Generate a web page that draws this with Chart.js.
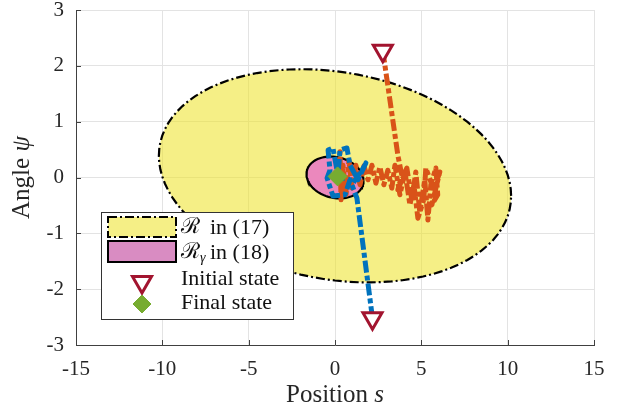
<!DOCTYPE html>
<html>
<head>
<meta charset="utf-8">
<script src="https://cdn.jsdelivr.net/npm/chart.js@4.4.1/dist/chart.umd.min.js"></script>
<style>
  html, body { margin: 0; padding: 0; background: #fff; }
  #wrap { width: 620px; height: 410px; }
</style>
</head>
<body>
<div id="wrap"><canvas id="chart" width="620" height="410"></canvas></div>
<script>
// ticks
const xTicks = [-15, -10, -5, 0, 5, 10, 15];
const yTicks = [-3, -2, -1, 0, 1, 2, 3];

// ellipses: [cx, cy, a, b, c]
// outline: s = cx + a cos t, psi = cy + c cos t + b sin t
const regionR = [0, 0.03, 10.2, 1.875, -0.36];
const regionRgamma = [0.0, 0.0, 1.65, 0.37, -0.06];

// trajectory 1 (orange)
const orangeS = [2.77, 3.64, 3.87, 3.64, 4.16, 4.45, 4.68, 4.91, 5.20, 5.38, 5.55, 5.84, 5.95, 5.61,
  6.07, 5.72, 5.26, 5.14, 4.80, 4.57, 4.34, 4.05, 3.76, 3.47, 3.29, 3.06, 2.83, 2.60, 2.37, 2.14,
  1.91, 1.68, 1.45, 1.21, 0.98, 0.81, 0.64, 0.46, 0.35, 0.29, 0.17];
const orangePsi = [2.27, 0.40, 0.04, -0.22, 0.17, -0.40, 0.10, -0.62, -0.04, -0.76, -0.13, 0.17, -0.31, -0.49,
  0.10, -0.22, 0.17, -0.40, -0.73, -0.13, -0.49, 0.10, -0.31, 0.22, -0.19, 0.13, -0.13, 0.19, -0.10, 0.22,
  -0.04, 0.21, -0.13, 0.22, -0.19, 0.31, -0.31, 0.22, -0.40, 0.46, 0.01];

// trajectory 2 (blue)
const blueS = [2.17, 1.27, 0.98, 1.56, 1.79, 1.33, 0.87, 0.69, 0.29, 0.17, -0.12, -0.40, -0.29, -0.46,
  -0.12, 0.58, 0.87, 0.17];
const bluePsi = [-2.52, -0.37, -0.13, 0.13, 0.26, -0.04, 0.22, 0.53, 0.49, 0.04, 0.53, 0.49, 0.13, -0.01,
  -0.33, -0.31, -0.04, 0.01];

const initialS = [2.77, 2.17];
const initialPsi = [2.27, -2.52];
const finalS = [0.15];
const finalPsi = [0.02];

const yellow = 'rgba(238, 226, 40, 0.56)';
const pink = '#EB88BD';
const pinkLegend = '#D98CC2';
const orange = '#D95319';
const blue = '#0072BD';
const darkRed = '#A2142F';
const green = '#77AC30';
const axisCol = '#404040';
const serif = '"Liberation Serif", "Times New Roman", serif';

function ellipsePts(e) {
  const pts = [];
  for (let i = 0; i <= 96; i++) {
    const t = i / 96 * 2 * Math.PI;
    pts.push({ x: e[0] + e[2] * Math.cos(t), y: e[1] + e[4] * Math.cos(t) + e[3] * Math.sin(t) });
  }
  return pts;
}
const zip = (xs, ys) => xs.map((x, i) => ({ x: x, y: ys[i] }));

// petits traits de graduation vers l'intérieur + titres des axes
const axesDeco = {
  id: 'axesDeco',
  afterDraw(chart) {
    const ctx = chart.ctx;
    const a = chart.chartArea;
    const xs = chart.scales.x, ys = chart.scales.y;
    ctx.save();
    ctx.strokeStyle = axisCol;
    ctx.lineWidth = 1;
    ctx.beginPath();
    xTicks.forEach(v => {
      const p = Math.round(xs.getPixelForValue(v)) + 0.5;
      ctx.moveTo(p, a.bottom); ctx.lineTo(p, a.bottom - 5);
    });
    yTicks.forEach(v => {
      const p = Math.round(ys.getPixelForValue(v)) + 0.5;
      ctx.moveTo(a.left, p); ctx.lineTo(a.left + 5, p);
    });
    ctx.stroke();

    ctx.fillStyle = '#262626';
    ctx.textBaseline = 'alphabetic';
    ctx.textAlign = 'left';
    // x title
    ctx.font = '25px ' + serif;
    const w1 = ctx.measureText('Position ').width;
    ctx.font = 'italic 25px ' + serif;
    const w2 = ctx.measureText('s').width;
    const cx = (a.left + a.right) / 2;
    const x0 = cx - (w1 + w2) / 2;
    ctx.font = '25px ' + serif;
    ctx.fillText('Position ', x0, 402);
    ctx.font = 'italic 25px ' + serif;
    ctx.fillText('s', x0 + w1, 402);
    // y title
    ctx.save();
    ctx.translate(29, (a.top + a.bottom) / 2);
    ctx.rotate(-Math.PI / 2);
    ctx.font = '25px ' + serif;
    const w3 = ctx.measureText('Angle ').width;
    ctx.font = 'italic 25px ' + serif;
    const w4 = ctx.measureText('ψ').width;
    ctx.font = '25px ' + serif;
    ctx.fillText('Angle ', -(w3 + w4) / 2, 0);
    ctx.font = 'italic 25px ' + serif;
    ctx.fillText('ψ', -(w3 + w4) / 2 + w3, 0);
    ctx.restore();
    ctx.restore();
  }
};

// légende encadrée en bas à gauche
const boxLegend = {
  id: 'boxLegend',
  afterDraw(chart) {
    const ctx = chart.ctx;
    ctx.save();
    ctx.fillStyle = '#fff';
    ctx.fillRect(101, 212, 193, 108);
    ctx.strokeStyle = '#333';
    ctx.lineWidth = 1;
    ctx.strokeRect(101.5, 212.5, 192, 107);

    ctx.fillStyle = yellow;
    ctx.fillRect(108, 217, 68, 20);
    ctx.strokeStyle = '#000';
    ctx.lineWidth = 2;
    ctx.setLineDash([9, 3, 2, 3]);
    ctx.strokeRect(108, 217, 68, 20);
    ctx.setLineDash([]);
    ctx.fillStyle = pinkLegend;
    ctx.fillRect(108, 241, 68, 21);
    ctx.strokeRect(108, 241, 68, 21);

    ctx.fillStyle = '#fff';
    ctx.strokeStyle = darkRed;
    ctx.lineWidth = 3;
    Chart.helpers.drawPoint(ctx, { pointStyle: 'triangle', rotation: 180, radius: 11, borderWidth: 3 }, 142, 282);
    ctx.fillStyle = green;
    ctx.strokeStyle = green;
    ctx.lineWidth = 1;
    Chart.helpers.drawPoint(ctx, { pointStyle: 'rectRot', rotation: 0, radius: 9, borderWidth: 1 }, 142, 304);

    ctx.fillStyle = '#111';
    ctx.textBaseline = 'middle';
    ctx.textAlign = 'left';
    ctx.font = '22px ' + serif;
    ctx.fillText('ℛ', 181, 227);
    ctx.fillText('in (17)', 210, 228);
    ctx.fillText('ℛ', 181, 252);
    const wr = ctx.measureText('ℛ').width;
    ctx.font = 'italic 14px ' + serif;
    ctx.fillText('γ', 181 + wr, 258);
    ctx.font = '22px ' + serif;
    ctx.fillText('in (18)', 210, 253);
    ctx.fillText('Initial state', 181, 279);
    ctx.fillText('Final state', 181, 303);
    ctx.restore();
  }
};

const trajStyle = { showLine: true, pointRadius: 0, borderWidth: 5, borderDash: [12, 3, 5, 3],
  borderJoinStyle: 'round', borderCapStyle: 'butt', fill: false };

const noPad = s => { s.paddingTop = 0; s.paddingBottom = 0; s.paddingLeft = 0; s.paddingRight = 0; };

new Chart(document.getElementById('chart'), {
  type: 'scatter',
  data: {
    datasets: [
      { data: zip(finalS, finalPsi), pointStyle: 'rectRot', pointRadius: 9.5, backgroundColor: green,
        borderColor: green, borderWidth: 1 },
      { data: zip(initialS, initialPsi), pointStyle: 'triangle', rotation: 180, pointRadius: 11,
        backgroundColor: '#fff', borderColor: darkRed, borderWidth: 3 },
      Object.assign({ data: zip(blueS, bluePsi), borderColor: blue }, trajStyle),
      Object.assign({ data: zip(orangeS, orangePsi), borderColor: orange }, trajStyle),
      { data: ellipsePts(regionRgamma), showLine: true, pointRadius: 0, borderColor: '#000', borderWidth: 2.2,
        backgroundColor: pink, fill: 'shape' },
      { data: ellipsePts(regionR), showLine: true, pointRadius: 0, borderColor: '#000', borderWidth: 2.2,
        borderDash: [9, 3, 2, 3], backgroundColor: yellow, fill: 'shape' }
    ]
  },
  options: {
    responsive: false,
    animation: false,
    events: [],
    devicePixelRatio: 1,
    layout: { autoPadding: false, padding: { top: 10, right: 26, left: 0, bottom: 0 } },
    plugins: { legend: { display: false }, tooltip: { enabled: false } },
    scales: {
      x: {
        type: 'linear', min: -15, max: 15,
        afterBuildTicks: s => { s.ticks = xTicks.map(v => ({ value: v })); },
        afterFit: s => { s.height = 65; noPad(s); },
        grid: { color: '#e3e3e3', drawTicks: false },
        border: { display: true, color: axisCol, width: 1 },
        ticks: { font: { family: serif, size: 21 }, color: '#262626', padding: 12, maxRotation: 0 }
      },
      y: {
        type: 'linear', min: -3, max: 3,
        afterBuildTicks: s => { s.ticks = yTicks.map(v => ({ value: v })); },
        afterFit: s => { s.width = 76; noPad(s); },
        grid: { color: '#e3e3e3', drawTicks: false },
        border: { display: true, color: axisCol, width: 1 },
        ticks: { font: { family: serif, size: 21 }, color: '#262626', padding: 12 }
      }
    }
  },
  plugins: [axesDeco, boxLegend]
});
</script>
</body>
</html>
